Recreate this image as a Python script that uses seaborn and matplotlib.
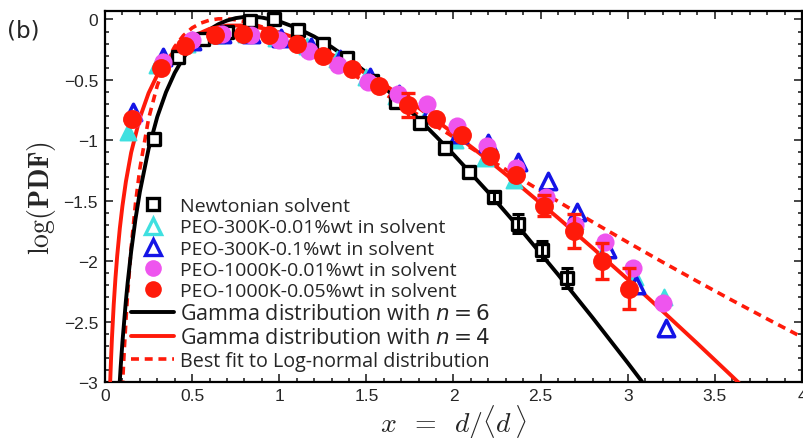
import numpy as np
import matplotlib
matplotlib.use('Agg')
import matplotlib.pyplot as plt
from matplotlib.lines import Line2D
from matplotlib.legend_handler import HandlerLine2D
import seaborn as sns

# --- measured data points: x = d/<d>, y = log10(PDF) ---
newt_x = [0.28, 0.42, 0.56, 0.70, 0.83, 0.97, 1.11, 1.25, 1.39, 1.53, 1.67, 1.81,
          1.95, 2.09, 2.23, 2.37, 2.51, 2.65]
newt_y = [-0.99, -0.31, -0.16, -0.10, -0.01, 0.00, -0.09, -0.20, -0.32, -0.51, -0.68,
          -0.86, -1.06, -1.26, -1.47, -1.69, -1.91, -2.14]
newt_err = [0, 0, 0, 0, 0, 0, 0, 0, 0, 0, 0, 0, 0, 0, 0.04, 0.08, 0.08, 0.08]

cyan_x = [0.13, 0.30, 0.47, 0.64, 0.81, 0.98, 1.16, 1.33, 1.50, 1.67, 1.84, 2.01,
          2.18, 2.35, 2.52, 2.70, 2.87, 3.04, 3.21]
cyan_y = [-0.93, -0.38, -0.20, -0.13, -0.12, -0.15, -0.22, -0.33, -0.48, -0.63, -0.80,
          -1.00, -1.15, -1.33, -1.50, -1.67, -1.90, -2.13, -2.30]

blue_x = [0.16, 0.33, 0.50, 0.67, 0.84, 1.01, 1.18, 1.35, 1.52, 1.69, 1.86, 2.03,
          2.20, 2.37, 2.54, 2.71, 2.88, 3.05, 3.22]
blue_y = [-0.77, -0.31, -0.18, -0.12, -0.12, -0.15, -0.23, -0.33, -0.48, -0.62, -0.78,
          -0.95, -1.02, -1.18, -1.34, -1.59, -1.90, -2.20, -2.55]

mag_x = [0.16, 0.33, 0.50, 0.67, 0.84, 1.00, 1.17, 1.34, 1.51, 1.68, 1.85, 2.02,
         2.19, 2.36, 2.53, 2.70, 2.87, 3.03, 3.20]
mag_y = [-0.82, -0.35, -0.17, -0.12, -0.13, -0.17, -0.26, -0.38, -0.52, -0.62, -0.70,
         -0.88, -1.05, -1.23, -1.47, -1.70, -1.84, -2.06, -2.35]

red_x = [0.155, 0.32, 0.46, 0.63, 0.79, 0.94, 1.10, 1.25, 1.42, 1.57, 1.74, 1.90,
         2.05, 2.21, 2.36, 2.52, 2.69, 2.85, 3.01]
red_y = [-0.82, -0.40, -0.22, -0.13, -0.12, -0.13, -0.20, -0.30, -0.41, -0.55, -0.71,
         -0.82, -0.96, -1.13, -1.29, -1.54, -1.75, -2.00, -2.23]
red_err = [0, 0, 0, 0, 0, 0, 0, 0, 0, 0, 0.10, 0, 0, 0, 0, 0.09, 0.14, 0.15, 0.17]

# --- curves ---
g6_x = [0.08, 0.09, 0.10, 0.12, 0.13, 0.15, 0.175, 0.20, 0.25, 0.30, 0.35, 0.40, 0.45,
        0.50, 0.55, 0.60, 0.65, 0.70, 0.75, 0.80, 0.85, 0.90, 1.00, 1.10, 1.20, 1.30,
        1.40, 1.50, 1.60, 1.70, 1.80, 1.90, 2.00, 2.20, 2.40, 2.60, 2.80, 3.00, 3.10]
g6_y = [-3.103, -2.874, -2.671, -2.327, -2.180, -1.921, -1.651, -1.427, -1.072, -0.806,
        -0.602, -0.442, -0.317, -0.218, -0.142, -0.083, -0.040, -0.009, 0.011, 0.021,
        0.022, 0.016, -0.016, -0.070, -0.141, -0.228, -0.328, -0.439, -0.559, -0.688,
        -0.824, -0.968, -1.117, -1.431, -1.763, -2.111, -2.471, -2.842, -3.032]

g4_x = [0.03, 0.035, 0.04, 0.05, 0.06, 0.07, 0.085, 0.10, 0.12, 0.15, 0.20, 0.25, 0.30,
        0.35, 0.40, 0.50, 0.60, 0.70, 0.80, 0.90, 1.00, 1.10, 1.20, 1.40, 1.60, 1.80,
        2.00, 2.20, 2.40, 2.60, 2.80, 3.00, 3.20, 3.40, 3.60, 3.65]
g4_y = [-2.991, -2.798, -2.633, -2.360, -2.140, -1.956, -1.729, -1.544, -1.341, -1.102,
        -0.814, -0.610, -0.460, -0.346, -0.258, -0.142, -0.078, -0.051, -0.050, -0.071,
        -0.107, -0.157, -0.217, -0.364, -0.537, -0.731, -0.941, -1.164, -1.399, -1.642,
        -1.893, -2.150, -2.414, -2.682, -2.955, -3.024]

ln_x = [0.09, 0.10, 0.105, 0.11, 0.12, 0.13, 0.15, 0.175, 0.20, 0.25, 0.30, 0.35, 0.40,
        0.45, 0.50, 0.55, 0.60, 0.65, 0.70, 0.75, 0.80, 0.90, 1.00, 1.20, 1.40, 1.60,
        1.80, 2.00, 2.20, 2.40, 2.60, 2.80, 3.00, 3.20, 3.40, 3.60, 3.80, 4.00]
ln_y = [-3.393, -3.048, -2.894, -2.751, -2.493, -2.267, -1.890, -1.522, -1.235, -0.822,
        -0.547, -0.357, -0.225, -0.133, -0.070, -0.030, -0.006, 0.005, 0.005, -0.003,
        -0.017, -0.061, -0.121, -0.267, -0.435, -0.611, -0.792, -0.973, -1.153, -1.331,
        -1.506, -1.677, -1.844, -2.008, -2.168, -2.325, -2.478, -2.629]

legend_labels = [
    'Newtonian solvent',
    'PEO-300K-0.01%wt in solvent',
    'PEO-300K-0.1%wt in solvent',
    'PEO-1000K-0.01%wt in solvent',
    'PEO-1000K-0.05%wt in solvent',
    'Gamma distribution with $n = 6$',
    'Gamma distribution with $n = 4$',
    'Best fit to Log-normal distribution',
]

CYAN = '#3FE0E0'
BLUE = '#1414E6'
MAGENTA = '#EE55EE'
RED = '#FF1A0A'
DASH = (0, (2.2, 1.6))


class RightMarker(HandlerLine2D):
    """Legend handler that puts the single marker near the right end of the handle."""
    def get_xdata(self, legend, xdescent, ydescent, width, height, fontsize):
        xdata, xmark = super().get_xdata(legend, xdescent, ydescent, width, height, fontsize)
        return xdata, [xm + 0.28 * width for xm in xmark]


sns.set_style('ticks')
plt.rcParams['font.family'] = ['Liberation Sans', 'DejaVu Sans']
plt.rcParams['xtick.direction'] = 'in'
plt.rcParams['ytick.direction'] = 'in'

fig = plt.figure(figsize=(8.04, 4.39), dpi=100)
ax = fig.add_axes([0.1306, 0.1276, 0.8669, 0.8451])

# fitted curves
sns.lineplot(x=ln_x, y=ln_y, ax=ax, color=RED, lw=2.6, linestyle=DASH,
             sort=False, estimator=None, zorder=2)
sns.lineplot(x=g6_x, y=g6_y, ax=ax, color='black', lw=2.8, sort=False,
             estimator=None, zorder=3)
sns.lineplot(x=g4_x, y=g4_y, ax=ax, color=RED, lw=2.8, sort=False,
             estimator=None, zorder=3)

# data markers
sns.scatterplot(x=cyan_x, y=cyan_y, ax=ax, marker='^', s=130, facecolor=CYAN,
                edgecolor=CYAN, linewidth=1.5, zorder=4)
sns.scatterplot(x=blue_x, y=blue_y, ax=ax, marker='^', s=140, facecolor='white',
                edgecolor=BLUE, linewidth=2.5, zorder=4)
sns.scatterplot(x=newt_x, y=newt_y, ax=ax, marker='s', s=75, facecolor='white',
                edgecolor='black', linewidth=2.4, zorder=5)
sns.scatterplot(x=mag_x, y=mag_y, ax=ax, marker='o', s=170, color=MAGENTA,
                linewidth=0, zorder=5)
sns.scatterplot(x=red_x, y=red_y, ax=ax, marker='o', s=185, color=RED,
                linewidth=0, zorder=6)

# error bars
ne = np.array(newt_err)
m = ne > 0
ax.errorbar(np.array(newt_x)[m], np.array(newt_y)[m], yerr=ne[m], fmt='none',
            ecolor='black', elinewidth=2.2, capsize=4.5, capthick=2.2, zorder=5)
re = np.array(red_err)
m = re > 0
ax.errorbar(np.array(red_x)[m], np.array(red_y)[m], yerr=re[m], fmt='none',
            ecolor=RED, elinewidth=2.4, capsize=5, capthick=2.4, zorder=6)

ax.set_xlim(0, 4)
ax.set_ylim(-3, 0.07)
ax.set_xticks(np.arange(0, 4.01, 0.5))
ax.set_xticklabels(['0', '0.5', '1', '1.5', '2', '2.5', '3', '3.5', '4'])
ax.set_yticks([0, -0.5, -1, -1.5, -2, -2.5, -3])
ax.set_yticklabels(['0', '\u22120.5', '\u22121', '\u22121.5', '\u22122', '\u22122.5', '\u22123'])
ax.set_xticks(np.arange(0, 4.01, 0.1), minor=True)
ax.set_yticks(np.arange(-3, 0.01, 0.1), minor=True)
ax.tick_params(which='both', top=True, right=True, direction='in', width=1.2)
ax.tick_params(which='major', length=6, labelsize=12.5)
ax.tick_params(which='minor', length=3)
ax.tick_params(axis='y', pad=5)
ax.tick_params(axis='x', pad=4)
for sp in ax.spines.values():
    sp.set_linewidth(1.6)
    sp.set_color('black')

ax.set_xlabel(r'$x\;\;=\;\;d/\langle d\,\rangle$', fontsize=20, math_fontfamily='cm',
              labelpad=0)
ax.set_ylabel(r'$\log(\mathbf{PDF})$', fontsize=20, math_fontfamily='cm', labelpad=4)

fig.text(0.009, 0.929, '(b)', fontsize=16.5, va='center', ha='left',
         family='DejaVu Sans')

handles = [
    Line2D([], [], ls='', marker='s', ms=8.5, mfc='white', mec='black', mew=2.4),
    Line2D([], [], ls='', marker='^', ms=11, mfc='white', mec=CYAN, mew=2.4),
    Line2D([], [], ls='', marker='^', ms=11, mfc='white', mec=BLUE, mew=2.4),
    Line2D([], [], ls='', marker='o', ms=12, mfc=MAGENTA, mec=MAGENTA, mew=0),
    Line2D([], [], ls='', marker='o', ms=12, mfc=RED, mec=RED, mew=0),
    Line2D([], [], color='black', lw=2.8),
    Line2D([], [], color=RED, lw=2.8),
    Line2D([], [], color=RED, lw=2.6, linestyle=DASH),
]
hmap = {h: RightMarker() for h in handles[:5]}
leg = ax.legend(handles, legend_labels, loc='upper left', bbox_to_anchor=(0.024, 0.524),
                frameon=False, borderpad=0, handlelength=2.2, handletextpad=0.3,
                labelspacing=0.16, prop={'family': 'Open Sans', 'size': 14},
                handler_map=hmap)
sizes = [14, 14, 14, 14, 14, 15.5, 15.5, 14.2]
for t, fs in zip(leg.get_texts(), sizes):
    t.set_fontsize(fs)
    t.set_math_fontfamily('dejavusans')

fig.savefig('out.png', dpi=100)
